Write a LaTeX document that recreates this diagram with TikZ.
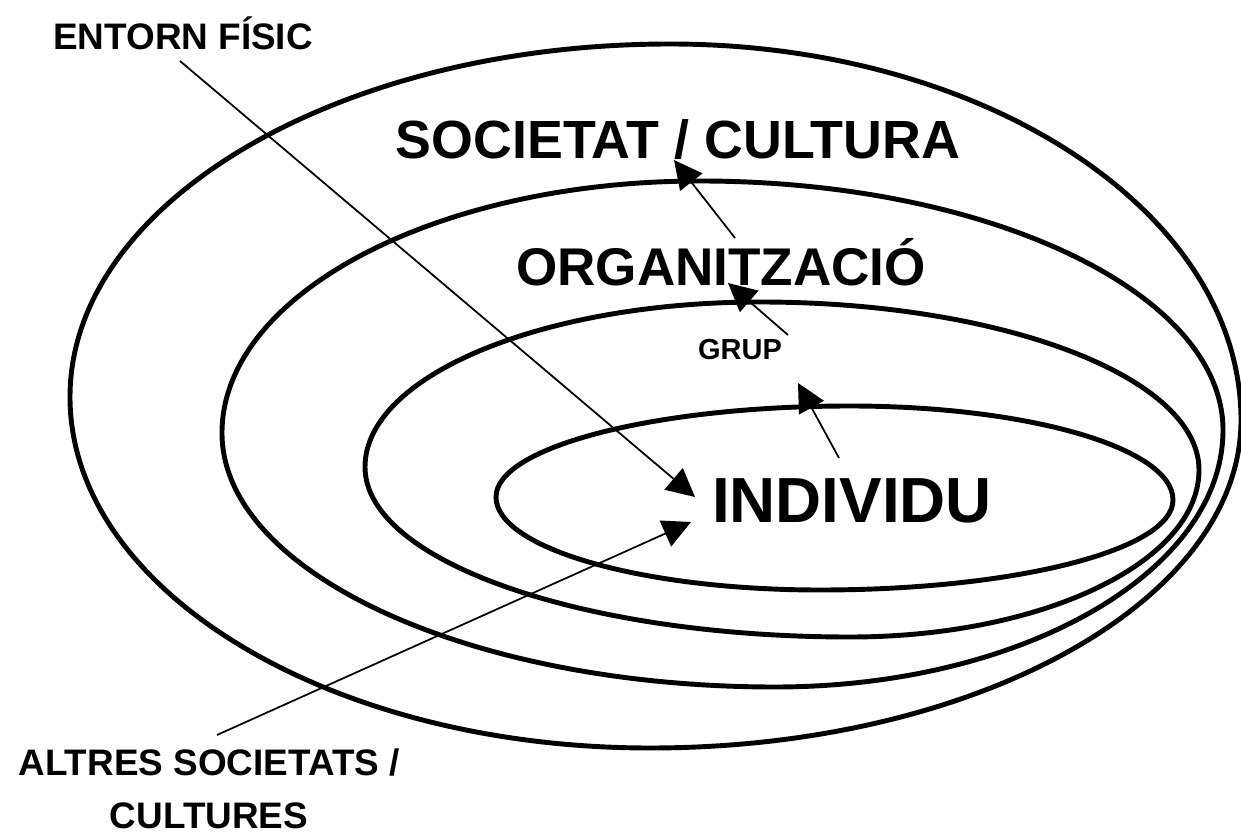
\documentclass[tikz,border=0pt]{standalone}
\usepackage{fontspec}
\setmainfont{Liberation Sans}
\usepackage{tikz}
\usetikzlibrary{arrows.meta}

\tikzset{
  ring/.style={line width=2.8pt},
  link/.style={line width=1pt,-{Triangle[length=16pt,width=16pt]}},
  label/.style={font=\bfseries,inner sep=0pt}
}

\begin{document}
\begin{tikzpicture}[x=0.02cm,y=-0.02cm]

\useasboundingbox (0,0) rectangle (1241,834);

% outer ring
\draw [ring] (70,397) .. controls (70,202) and (339,44) .. (670,44)
  .. controls (985,44) and (1241,212) .. (1241,420)
  .. controls (1241,601) and (976,748) .. (650,748)
  .. controls (330,748) and (70,591) .. (70,397) -- cycle;
% second ring
\draw [ring] (222,433) .. controls (222,294) and (436,181) .. (700,181)
  .. controls (989,181) and (1223,293) .. (1223,430)
  .. controls (1223,572) and (1022,687) .. (775,687)
  .. controls (470,687) and (222,573) .. (222,433) -- cycle;
% third ring
\draw [ring] (365,467) .. controls (365,376) and (542,302) .. (760,302)
  .. controls (1002,302) and (1199,377) .. (1199,470)
  .. controls (1199,562) and (1043,637) .. (850,637)
  .. controls (582,637) and (365,561) .. (365,467) -- cycle;
% inner ring
\draw [ring] (496,497) .. controls (496,447) and (655,406) .. (850,406)
  .. controls (1028,406) and (1173,448) .. (1173,500)
  .. controls (1173,550) and (1015,590) .. (820,590)
  .. controls (641,590) and (496,548) .. (496,497) -- cycle;

\node [label,font=\fontsize{21}{25}\selectfont\bfseries] (entorn) at (183,33) {ENTORN FÍSIC};
\node [label,font=\fontsize{30.6}{36}\selectfont\bfseries] (societat) at (678,140) {SOCIETAT / CULTURA};
\node [label,font=\fontsize{30.2}{36}\selectfont\bfseries] (organitzacio) at (721,262) {ORGANITZACIÓ};
\node [label,font=\fontsize{16.5}{20}\selectfont\bfseries] (grup) at (740,350) {GRUP};
\node [label,font=\fontsize{36.3}{42}\selectfont\bfseries] (individu) at (852,501) {INDIVIDU};
\node [label,font=\fontsize{21}{30}\selectfont\bfseries,align=center] (altres) at (209,789) {ALTRES SOCIETATS /\\CULTURES};

\coordinate (e0) at (180,61);
\coordinate (e1) at (695,497);
\coordinate (a0) at (217,735);
\coordinate (a1) at (691,522);
\coordinate (i0) at (839,458);
\coordinate (i1) at (798,383);
\coordinate (g0) at (788,335);
\coordinate (g1) at (728,283);
\coordinate (o0) at (735,238);
\coordinate (o1) at (674,160);

\draw [link] (e0) -- (e1);
\draw [link] (a0) -- (a1);
\draw [link] (i0) -- (i1);
\draw [link] (g0) -- (g1);
\draw [link] (o0) -- (o1);

\end{tikzpicture}
\end{document}
